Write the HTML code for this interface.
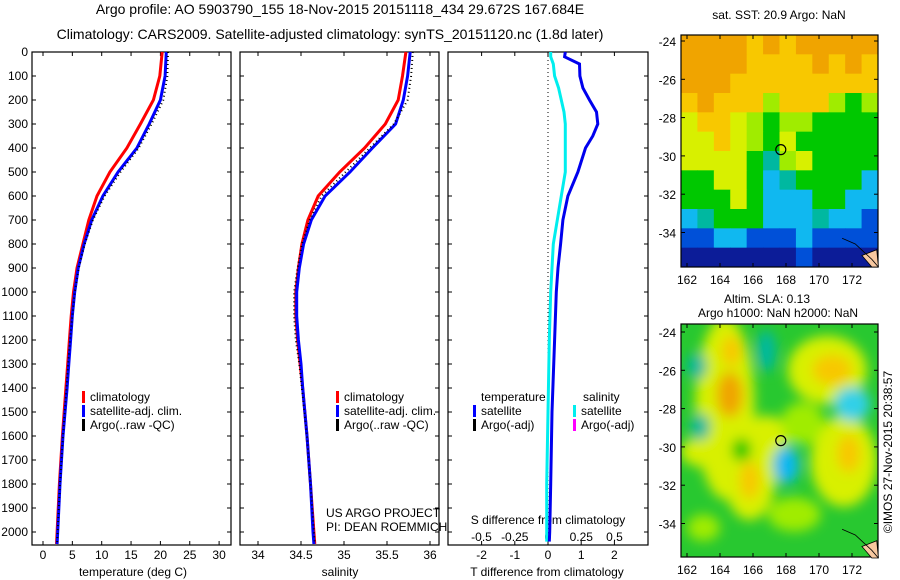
<!DOCTYPE html>
<html><head><meta charset="utf-8"><style>
html,body{margin:0;padding:0;background:#fff;}
svg{display:block;font-family:"Liberation Sans",sans-serif;}
</style></head><body>
<svg id="fig" width="900" height="580" viewBox="0 0 900 580" xmlns="http://www.w3.org/2000/svg">
<defs>
<clipPath id="clipTop"><rect x="681" y="35" width="197" height="232"/></clipPath>
<clipPath id="clipBot"><rect x="681" y="324" width="197" height="233"/></clipPath>
<filter id="blur" x="-50%" y="-50%" width="200%" height="200%"><feGaussianBlur stdDeviation="6"/></filter>
</defs>
<text x="340" y="14" font-size="14" text-anchor="middle">Argo profile: AO 5903790_155 18-Nov-2015 20151118_434 29.672S 167.684E</text>
<text x="330" y="39" font-size="14" text-anchor="middle">Climatology: CARS2009. Satellite-adjusted climatology: synTS_20151120.nc (1.8d later)</text>
<g id="g"></g>
<text x="326" y="517" font-size="12">US ARGO PROJECT</text>
<text x="326" y="531" font-size="12">PI: DEAN ROEMMICH</text>
<text x="779" y="19" font-size="12" text-anchor="middle">sat. SST: 20.9 Argo: NaN</text>
<text x="767" y="303" font-size="12" text-anchor="middle">Altim. SLA: 0.13</text>
<text x="778" y="317" font-size="12" text-anchor="middle">Argo h1000: NaN h2000: NaN</text>
<text transform="translate(892,452) rotate(-90)" font-size="12" text-anchor="middle">©IMOS 27-Nov-2015 20:38:57</text>
</svg>
<script>
// ---- data ----
const depths = [0,100,200,300,400,500,600,700,800,900,1000,1100,1200,1300,1400,1600,1800,2000,2050];
const tempClim = [20.3,19.9,18.8,16.6,14.3,11.4,9.2,7.8,6.8,5.8,5.2,4.8,4.5,4.2,3.9,3.3,2.8,2.4,2.3];
const tempSat  = [21.0,20.8,20.0,18.1,16.0,12.8,10.2,8.3,7.0,6.0,5.4,5.0,4.7,4.4,4.1,3.4,2.9,2.5,2.4];
const tempArgo = [21.3,21.2,20.5,18.5,16.3,13.2,10.5,8.5,7.1,6.1,5.4,5.0,4.6,4.3,4.0,3.4,2.9,2.5,2.4];
const salClim  = [35.72,35.68,35.63,35.48,35.24,34.95,34.70,34.58,34.51,34.47,34.44,34.44,34.46,34.49,34.52,34.57,34.61,34.65,34.66];
const salSat   = [35.77,35.74,35.69,35.60,35.33,35.07,34.78,34.62,34.53,34.48,34.45,34.45,34.47,34.50,34.52,34.57,34.61,34.64,34.65];
const salArgo  = [35.80,35.78,35.74,35.58,35.30,35.02,34.74,34.60,34.51,34.46,34.42,34.42,34.44,34.48,34.51,34.57,34.61,34.65,34.66];
const diffDepths = [0,20,50,100,150,200,250,300,350,400,500,600,700,800,900,1000,1200,1500,1800,2000,2040];
const tDiff = [0.52,0.5,0.95,0.96,1.05,1.25,1.46,1.5,1.35,1.13,0.9,0.6,0.45,0.38,0.3,0.25,0.2,0.12,0.08,0.05,0.04];
const sDiff = [0.02,0.02,0.04,0.05,0.08,0.1,0.12,0.13,0.13,0.13,0.13,0.1,0.07,0.04,0.03,0.02,0.01,0.0,-0.01,-0.01,-0.01];
const depthTicks = [0,100,200,300,400,500,600,700,800,900,1000,1100,1200,1300,1400,1500,1600,1700,1800,1900,2000];
const tempTicks = [0,5,10,15,20,25,30];
const salTicks = [34,34.5,35,35.5,36];
const tdTicks = [-2,-1,0,1,2];
const sdTicks = [-0.5,-0.25,0,0.25,0.5];
const lonTicks = [162,164,166,168,170,172];
const latTicks = [-24,-26,-28,-30,-32,-34];
const sstGrid = [
"OOOOoOoOOOOO",
"OOOOooooOoOo",
"OOOoooooooooy",
"oOoooyoooyGy",
"YooYyGyyGGGG",
"YYoYyGYGGGGG",
"YYYYGTyYGGGG",
"GGYYGCTGGGGC",
"GGGYGCCCGGCC",
"CTGGGCCCTCCB",
"BBCCBBBCBBBB",
"NNNNNNNBNNNN"];
const slaBlobs = [ // lon, lat, rx(deg), ry(deg), colour code
[164.3,-28,1.8,4.8,'Y'],[165.8,-31.5,1.6,2.4,'Y'],[170.5,-26,2.4,1.8,'Y'],[171.5,-30.8,2,2.4,'Y'],
[166.8,-29.5,1.4,1.1,'Y'],[168.5,-33.6,1.6,0.9,'y'],[163,-30.3,1.4,0.8,'Y'],[169,-28.8,1.3,1.1,'y'],[163,-34.3,1,0.7,'y'],
[164.6,-27.3,0.8,1.2,'O'],[164.7,-25,0.6,0.8,'o'],[165.8,-31.8,0.6,1,'o'],[170.8,-26,1.2,0.8,'o'],[171.8,-30.4,0.7,1,'o'],
[168,-31,0.8,1.0,'C'],[172,-27.8,1.1,0.9,'c'],[166.8,-25,0.6,1.1,'T'],[162.6,-25.8,0.6,0.7,'T'],[162.8,-29,0.6,0.7,'T'],[165.3,-30.2,0.6,0.6,'G']];
const argoLon = 167.684, argoLat = -29.672;

// ---- helpers ----
const NS = "http://www.w3.org/2000/svg";
const G = document.getElementById('g');
function mk(tag, attrs, parent){ const e=document.createElementNS(NS,tag); for(const k in attrs) e.setAttribute(k,attrs[k]); (parent||G).appendChild(e); return e; }
const yD = d => 52 + d*0.24;
const PB = 545;
function panel(x0,x1,name){
  const r = mk('rect',{x:x0,y:52,width:x1-x0,height:PB-52,fill:'none',stroke:'#000','stroke-width':1.2});
  
  
  depthTicks.forEach(d=>{ mk('line',{x1:x0,x2:x0+4,y1:yD(d),y2:yD(d),stroke:'#000'}); mk('line',{x1:x1-4,x2:x1,y1:yD(d),y2:yD(d),stroke:'#000'}); });
}
function line(xs, ys, sx, color, w, dash, name){
  const pts = xs.map((v,i)=> sx(v).toFixed(1)+','+yD(ys[i]).toFixed(1)).join(' ');
  const p = mk('polyline',{points:pts,fill:'none',stroke:color,'stroke-width':w});
  if(dash) p.setAttribute('stroke-dasharray',dash);
  
  
}
function txt(x,y,s,anchor,size,name){
  const t = mk('text',{x:x,y:y,'font-size':size||12,'text-anchor':anchor||'start'}); t.textContent=s;
  
  
  return t;
}
function legendItem(x,y,color,label,name){
  mk('rect',{x:x,y:y-10,width:3,height:12,fill:color});
  txt(x+8,y,label,'start',12,name);
}

depthTicks.forEach(d=> txt(28,yD(d)+4,String(d),'end',12,'depth-tick-label'));

// ---- panel 1: temperature ----
const sxT = v => 43 + v*5.87;
panel(32,231,'temperature-panel');
tempTicks.forEach(v=>{ mk('line',{x1:sxT(v),x2:sxT(v),y1:PB,y2:PB-4,stroke:'#000'}); mk('line',{x1:sxT(v),x2:sxT(v),y1:52,y2:56,stroke:'#000'}); txt(sxT(v),559,String(v),'middle',12,'temp-tick-label'); });
txt(133,576,'temperature (deg C)','middle',12,'temperature-axis-title');
line(tempClim,depths,sxT,'#f00',3,null,'temp-climatology-line');
line(tempSat,depths,sxT,'#00f',3,null,'temp-satellite-line');
line(tempArgo,depths,sxT,'#000',2,'1 3','temp-argo-line');
legendItem(82,401,'#f00','climatology','legend-climatology');
legendItem(82,415,'#00f','satellite-adj. clim.','legend-satellite');
legendItem(82,429,'#000','Argo(..raw -QC)','legend-argo');

// ---- panel 2: salinity ----
const sxS = v => 258 + (v-34)*86;
panel(240,439,'salinity-panel');
salTicks.forEach(v=>{ mk('line',{x1:sxS(v),x2:sxS(v),y1:PB,y2:PB-4,stroke:'#000'}); mk('line',{x1:sxS(v),x2:sxS(v),y1:52,y2:56,stroke:'#000'}); txt(sxS(v),559,String(v),'middle',12,'sal-tick-label'); });
txt(340,576,'salinity','middle',12,'salinity-axis-title');
line(salClim,depths,sxS,'#f00',3,null,'sal-climatology-line');
line(salSat,depths,sxS,'#00f',3,null,'sal-satellite-line');
line(salArgo,depths,sxS,'#000',2,'1 3','sal-argo-line');
legendItem(336,401,'#f00','climatology','legend-climatology-2');
legendItem(336,415,'#00f','satellite-adj. clim.','legend-satellite-2');
legendItem(336,429,'#000','Argo(..raw -QC)','legend-argo-2');

// ---- panel 3: differences ----
const sxTD = v => 548 + v*33.2;
const sxSD = v => 548 + v*133;
panel(448,648,'difference-panel');
tdTicks.forEach(v=>{ mk('line',{x1:sxTD(v),x2:sxTD(v),y1:PB,y2:PB-4,stroke:'#000'}); mk('line',{x1:sxTD(v),x2:sxTD(v),y1:52,y2:56,stroke:'#000'}); txt(sxTD(v),559,String(v),'middle',12,'tdiff-tick-label'); });
sdTicks.forEach(v=> txt(sxSD(v),541,String(v),'middle',12,'sdiff-tick-label'));
txt(548,524,'S difference from climatology','middle',12,'sdiff-axis-title');
txt(547,576,'T difference from climatology','middle',12,'tdiff-axis-title');
mk('line',{x1:548,x2:548,y1:52,y2:PB,stroke:'#000','stroke-dasharray':'1 3'});
line(sDiff,diffDepths,sxSD,'#0ee',3,null,'sdiff-satellite-line');
line(tDiff,diffDepths,sxTD,'#00e',3,null,'tdiff-satellite-line');
txt(481,401,'temperature','start',12,'legend-temperature-header');
legendItem(473,415,'#00f','satellite','legend-tdiff-satellite');
legendItem(473,429,'#000','Argo(-adj)','legend-tdiff-argo');
txt(583,401,'salinity','start',12,'legend-salinity-header');
legendItem(573,415,'#0ee','satellite','legend-sdiff-satellite');
legendItem(573,429,'#f0f','Argo(-adj)','legend-sdiff-argo');

// ---- maps ----
const colors = {O:'#f0a400',o:'#f8c800',Y:'#d8f000',y:'#a0ec00',G:'#00c800',T:'#00b8a0',C:'#10b8f0',c:'#30d0e8',B:'#0050d8',N:'#0c1c98'};
function mapFrame(y0,h,lat0y,name){
  const sx = lon => 687 + (lon-162)*16.5;
  const sy = lat => lat0y + (-24-lat)*19.15;
  const r = mk('rect',{x:681,y:y0,width:197,height:h,fill:'none',stroke:'#000','stroke-width':1.2});
  
  
  lonTicks.forEach(v=>{ mk('line',{x1:sx(v),x2:sx(v),y1:y0,y2:y0+4,stroke:'#000'}); mk('line',{x1:sx(v),x2:sx(v),y1:y0+h,y2:y0+h-4,stroke:'#000'}); txt(sx(v),y0+h+17,String(v),'middle',12,'lon-tick-label'); });
  latTicks.forEach(v=>{ mk('line',{x1:681,x2:685,y1:sy(v),y2:sy(v),stroke:'#000'}); mk('line',{x1:874,x2:878,y1:sy(v),y2:sy(v),stroke:'#000'}); txt(676,sy(v)+5,String(v),'end',12,'lat-tick-label'); });
  const coast = mk('polygon',{points:`${sx(172.6)},${sy(-35.2)} ${sx(173.5)},${sy(-34.9)} ${sx(173.6)},${sy(-35.8)} ${sx(173.2)},${sy(-35.8)}`,fill:'#f8c8a0',stroke:'#000','stroke-width':0.8});
  
  
  mk('polyline',{points:`${sx(171.4)},${sy(-34.3)} ${sx(172.2)},${sy(-34.6)} ${sx(173.2)},${sy(-35.4)} ${sx(173.6)},${sy(-35.8)}`,fill:'none',stroke:'#000','stroke-width':0.8});
  const c = mk('circle',{cx:sx(argoLon),cy:sy(argoLat),r:5,fill:'none',stroke:'#000','stroke-width':1.2});
  
  
  return {sx,sy};
}
const gTop = mk('g',{'clip-path':'url(#clipTop)'});


const cw = 197/12, ch = 232/12;
sstGrid.forEach((row,i)=>{ for(let j=0;j<12;j++){ mk('rect',{x:681+j*cw,y:35+i*ch,width:cw+0.5,height:ch+0.5,fill:colors[row[j]]||'#f0a000'},gTop); } });
mapFrame(35,232,41,'sst-map-frame');
const gBot = mk('g',{'clip-path':'url(#clipBot)'});


mk('rect',{x:681,y:324,width:197,height:233,fill:'#28c830'},gBot);
const gBl = mk('g',{filter:'url(#blur)'},gBot);
const bsx = lon => 687 + (lon-162)*16.5, bsy = lat => 332 + (-24-lat)*19.0;
slaBlobs.forEach(b=>{ mk('ellipse',{cx:bsx(b[0]),cy:bsy(b[1]),rx:b[2]*16.5,ry:b[3]*19,fill:colors[b[4]]},gBl); });
mapFrame(324,233,332,'sla-map-frame');
</script>
</body></html>
